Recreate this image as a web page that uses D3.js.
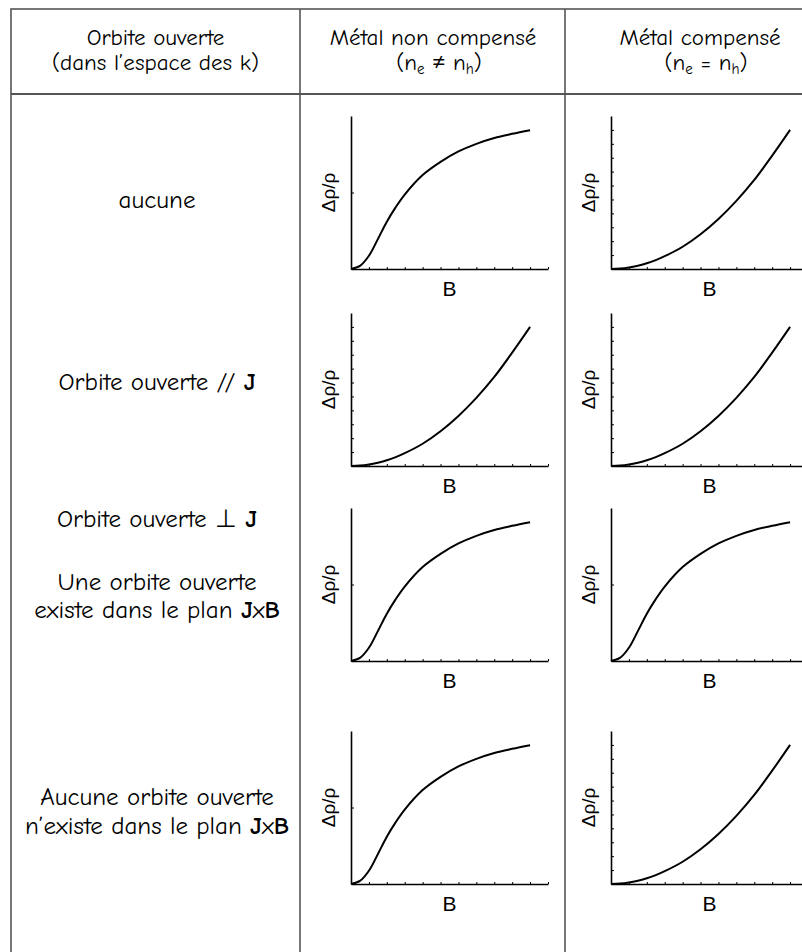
<!DOCTYPE html>
<html>
<head>
<meta charset="utf-8">
<script src="https://cdn.jsdelivr.net/npm/d3@7"></script>
<style>
  body { margin: 0; background: #fff; }
  svg { display: block; }
  .cell-text { font-family: "Comic Sans MS", "Comic Neue", "Open Sans", sans-serif; fill: #000; }
  .axis-text { font-family: "Liberation Sans", Arial, sans-serif; fill: #000; }
</style>
</head>
<body>
<svg width="802" height="952"></svg>
<script>
// values (B in tick units, dRho/rho in tick units)
var bValues = [0, 0.5, 1, 1.5, 2, 2.5, 3, 4, 5, 6, 7, 8, 9, 10];
var saturating = [0, 0.22, 0.95, 2.15, 3.4, 4.45, 5.35, 6.75, 7.7, 8.45, 9.0, 9.42, 9.72, 9.98];
var quadratic = [0, 0.03, 0.11, 0.24, 0.41, 0.64, 0.92, 1.6, 2.5, 3.6, 4.9, 6.4, 8.15, 10];

var xTicks = [1, 2, 3, 4, 5, 6, 7, 8, 9, 10, 11];
var yTicksQuad = [1, 2, 3, 4, 5, 6, 7, 8, 9, 10];
var yTicksSat = [5.5];

var headers = [
  ["Orbite ouverte", "(dans l’espace des k)"],
  ["Métal non compensé", "ne≠nh"],
  ["Métal compensé", "ne=nh"]
];

// which curve goes in each row (col 2, col 3)
var plotTypes = [["sat", "quad"], ["quad", "quad"], ["sat", "sat"], ["sat", "quad"]];

var svg = d3.select("svg");
var W = 802, H = 952;
var headSize = 23, rowSize = 25;

// table frame
var tLeft = 11, tTop = 9, tRight = 835, headY = 94;
var colLines = [300, 565];
var lineColor = "#555";

svg.append("rect")
  .attr("x", tLeft).attr("y", tTop)
  .attr("width", tRight - tLeft).attr("height", 1000)
  .attr("fill", "none").attr("stroke", lineColor).attr("stroke-width", 1.6);

svg.append("line")
  .attr("x1", tLeft).attr("x2", tRight).attr("y1", headY).attr("y2", headY)
  .attr("stroke", lineColor).attr("stroke-width", 2);

colLines.forEach(function(x) {
  svg.append("line")
    .attr("x1", x).attr("x2", x).attr("y1", tTop).attr("y2", H + 10)
    .attr("stroke", lineColor).attr("stroke-width", 1.6);
});

// ~~~~ header ~~~~
var headCenters = [155.5, 433, 700];
var h1 = svg.append("text").attr("class", "cell-text").attr("font-size", headSize).attr("text-anchor", "middle");
h1.append("tspan").attr("x", headCenters[0]).attr("y", 45).text(headers[0][0]);
h1.append("tspan").attr("x", headCenters[0]).attr("y", 70).text(headers[0][1]);

[1, 2].forEach(function(c) {
  var t = svg.append("text").attr("class", "cell-text").attr("font-size", headSize).attr("text-anchor", "middle");
  t.append("tspan").attr("x", headCenters[c]).attr("y", 45).text(headers[c][0]);
  var l2 = svg.append("text").attr("class", "cell-text").attr("font-size", headSize).attr("text-anchor", "middle")
    .attr("x", headCenters[c] + 6).attr("y", 70);
  var rel = c == 1 ? " ≠ " : " = ";
  l2.append("tspan").text("(n");
  l2.append("tspan").attr("font-size", 15).attr("dy", 4).text("e");
  l2.append("tspan").attr("dy", -4).text(rel + "n");
  l2.append("tspan").attr("font-size", 15).attr("dy", 4).text("h");
  l2.append("tspan").attr("dy", -4).text(")");
});

// ~~~~ row labels ~~~~
function label(y, parts) {
  var t = svg.append("text").attr("class", "cell-text").attr("font-size", rowSize)
    .attr("text-anchor", "middle").attr("x", 157).attr("y", y + 8);
  parts.forEach(function(p) {
    var s = t.append("tspan").text(p[0]);
    if (p[1]) s.attr("font-weight", "bold");
  });
}
label(200, [["aucune"]]);
label(382, [["Orbite ouverte // "], ["J", 1]]);
label(519, [["Orbite ouverte ⊥ "], ["J", 1]]);
label(582, [["Une orbite ouverte"]]);
label(610, [["existe dans le plan "], ["J", 1], ["x"], ["B", 1]]);
label(797, [["Aucune orbite ouverte"]]);
label(826, [["n’existe dans le plan "], ["J", 1], ["x"], ["B", 1]]);

// ~~~~ little plots ~~~~
var rowTops = [116, 313, 508, 731];
var colX = [351, 611];
var pw = 197, ph = 153;

var x = d3.scaleLinear().domain([0, 11]).range([0, pw]);
var y = d3.scaleLinear().domain([0, 11]).range([ph, 0]);

var line = d3.line()
  .x(function(d) { return x(d[0]); })
  .y(function(d) { return y(d[1]); })
  .curve(d3.curveCatmullRom.alpha(0.5));

function drawPlot(px, py, type) {
  var g = svg.append("g").attr("transform", "translate(" + px + "," + py + ")");
  var vals = type == "sat" ? saturating : quadratic;
  var pts = bValues.map(function(b, i) { return [b, vals[i]]; });

  var xAxis = d3.axisBottom(x).tickValues(xTicks).tickSize(-2).tickFormat("").tickSizeOuter(0);
  var yAxis = d3.axisLeft(y).tickValues(type == "sat" ? yTicksSat : yTicksQuad)
    .tickSize(-3).tickFormat("").tickSizeOuter(0);

  g.append("g").attr("transform", "translate(0," + ph + ")").call(xAxis);
  g.append("g").call(yAxis);
  g.selectAll(".domain").attr("stroke", "#000").attr("stroke-width", 1.6);
  g.selectAll(".tick line").attr("stroke", "#000").attr("stroke-width", 1);

  g.append("path").datum(pts)
    .attr("d", line)
    .attr("fill", "none").attr("stroke", "#000").attr("stroke-width", 2);

  g.append("text").attr("class", "axis-text")
    .attr("x", pw / 2).attr("y", ph + 27)
    .attr("text-anchor", "middle").attr("font-size", 21).text("B");

  g.append("text").attr("class", "axis-text")
    .attr("transform", "translate(-16," + (ph / 2) + ") rotate(-90)")
    .attr("text-anchor", "middle").attr("font-size", 19).text("Δρ/ρ");
}

plotTypes.forEach(function(row, r) {
  row.forEach(function(type, c) {
    drawPlot(colX[c], rowTops[r], type);
  });
});
</script>
</body>
</html>
